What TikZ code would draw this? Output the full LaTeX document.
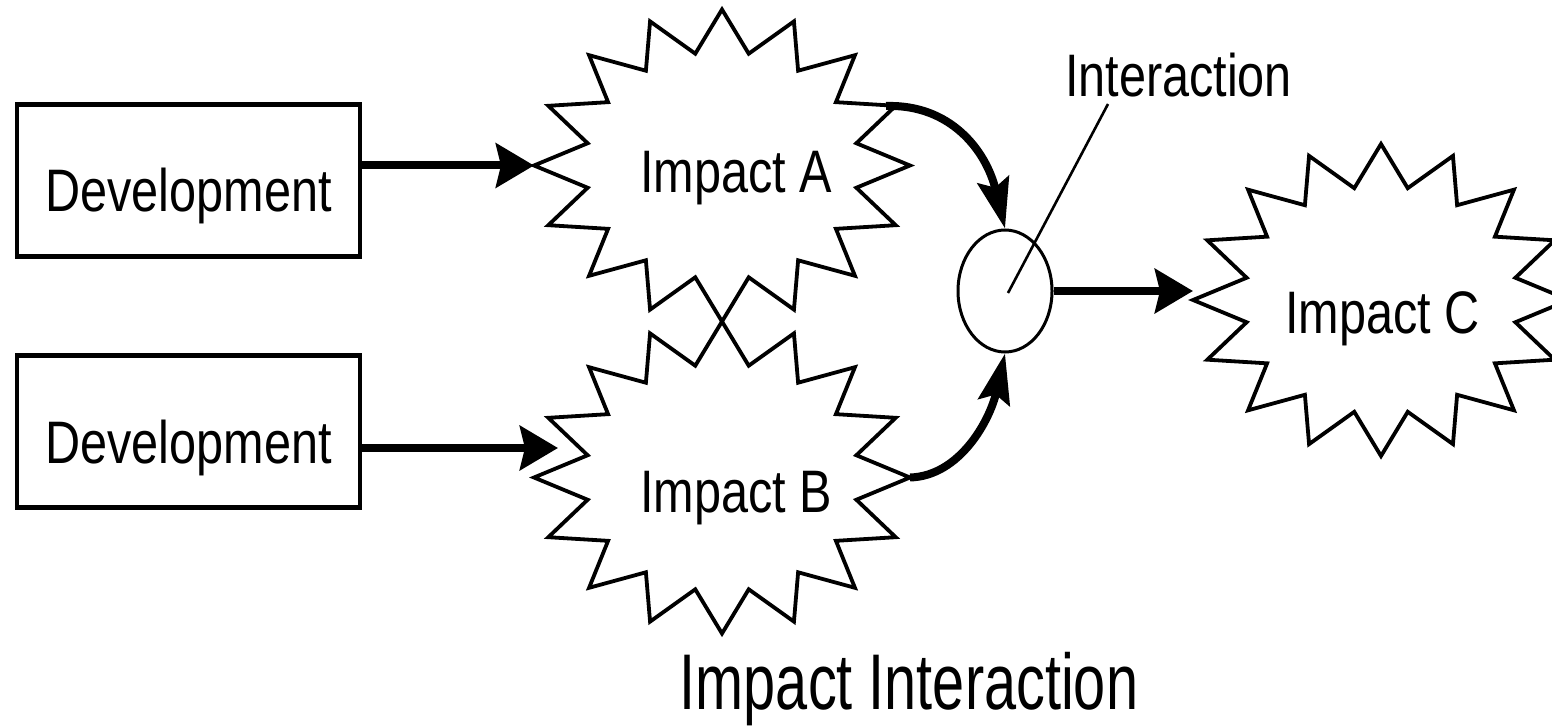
\documentclass[tikz,border=0pt]{standalone}
\usepackage{fontspec}
\setmainfont{Liberation Sans}[FakeStretch=0.81]
\newfontfamily\titlefont{Liberation Sans}[FakeStretch=0.73]
\usetikzlibrary{arrows.meta,shapes.geometric}

% sixteen-point burst centred at (#1,#2)
\newcommand\drawburst[2]{%
  \draw[burstline] plot[variable=\k, samples at={0,...,31}]
    ({#1+(137+51*mod(\k+1,2))*cos(\k*11.25)},
     {#2+(114+42*mod(\k+1,2))*sin(\k*11.25)}) -- cycle;}

\begin{document}
\begin{tikzpicture}[x=1pt,y=-1pt,
  devbox/.style={draw, line width=4.5pt, minimum width=343pt, minimum height=152pt,
    inner sep=0pt, text height=63pt, text depth=0pt, font=\fontsize{60}{72}\selectfont},
  lbltext/.style={anchor=base, inner sep=0pt, font=\fontsize{60}{72}\selectfont},
  burstline/.style={line width=3.8pt, line join=miter},
  push/.style={line width=8pt, -{Stealth[length=38pt,width=44pt,inset=5pt]}},
  feed/.style={line width=8pt, -{Stealth[length=50pt,width=32pt,inset=8pt]}},
  leader/.style={line width=2.6pt}
]
\clip (0,0) rectangle (1552,727);

% development boxes
\node[devbox] (devA) at (188.5,180.5) {Development};
\node[devbox] (devB) at (188.5,431.5) {Development};

% impact bursts
\drawburst{722}{165.5}
\drawburst{722}{477.5}
\drawburst{1381}{300}

\node[lbltext] (ta) at (736,193) {Impact A};
\node[lbltext] (tb) at (736,512) {Impact B};
\node[lbltext] (tc) at (1382.5,333) {Impact C};

% interaction point
\node[ellipse, draw, line width=3pt, minimum width=94pt, minimum height=122pt,
  inner sep=0pt] (ix) at (1005,291) {};
\node[lbltext] (tix) at (1178.5,97) {Interaction};

% connector end points on the burst outlines
\coordinate (aL) at (534,165.5);
\coordinate (aOut) at (886,106);
\coordinate (bIn) at (558,448);
\coordinate (bOut) at (910,477.5);
\coordinate (cL) at (1193,291);
\coordinate (leadTop) at (1108,104);
\coordinate (leadEnd) at (1008,293);

\draw[push] (devA.east |- aL) -- (aL);
\draw[push] (devB.east |- bIn) -- (bIn);
\draw[push] (ix.east) -- (cL);
\draw[feed] (aOut) .. controls (950,104) and (986,150) .. (ix.north);
\draw[feed] (bOut) .. controls (960,476) and (990,420) .. (ix.south);
\draw[leader] (leadTop) -- (leadEnd);

% caption
\node[anchor=base, inner sep=0pt, font=\titlefont\fontsize{79}{96}\selectfont]
  (cap) at (909,709) {Impact Interaction};
\end{tikzpicture}
\end{document}
